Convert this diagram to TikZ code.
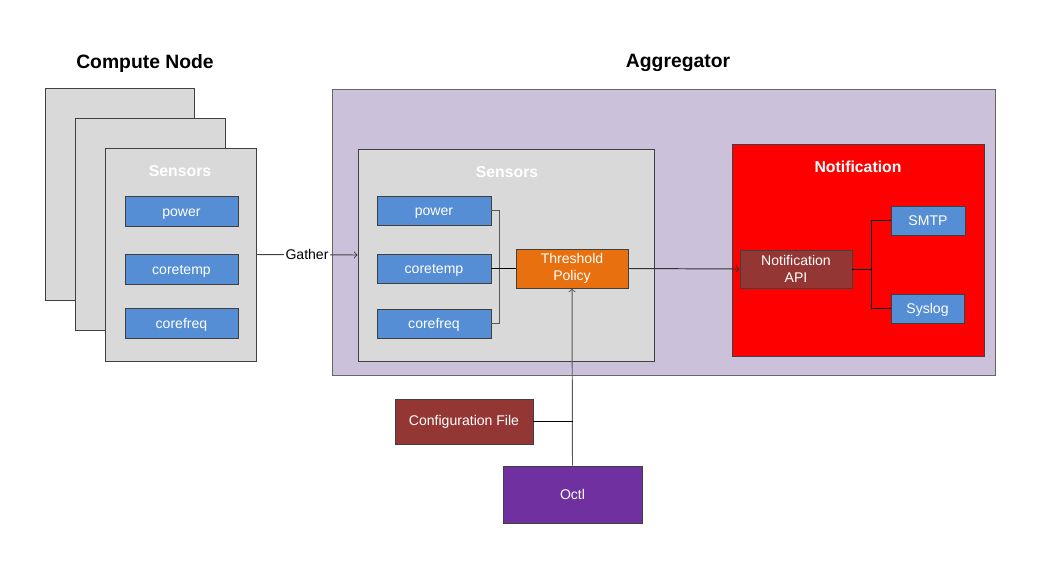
\documentclass[tikz,border=0pt]{standalone}
\usepackage{fontspec}
\setmainfont{Liberation Sans}
\usetikzlibrary{arrows, positioning}

\definecolor{panelgray}{HTML}{D9D9D9}
\definecolor{agglav}{HTML}{CCC1DA}
\definecolor{sensblue}{HTML}{558ED5}
\definecolor{throrange}{HTML}{E9700E}
\definecolor{apibrown}{HTML}{943634}
\definecolor{octlpurple}{HTML}{7030A0}
\definecolor{edgegray}{HTML}{404040}

\begin{document}
\begin{tikzpicture}[x=0.02cm, y=-0.02cm, line width=0.55pt,
    panel/.style={rectangle, draw=edgegray, fill=panelgray, inner sep=0pt},
    sensorbox/.style={rectangle, draw=edgegray, fill=sensblue, text=white, inner sep=0pt,
        minimum height=0.6cm, text height=0.78em, text depth=0.18em, font=\fontsize{8}{9.5}\selectfont},
    darkbox/.style={rectangle, draw=edgegray, text=white, inner sep=0pt, align=center,
        font=\fontsize{8}{9.5}\selectfont},
    title/.style={font=\fontsize{11}{13}\selectfont\bfseries},
    paneltitle/.style={text=white, font=\fontsize{9}{11}\selectfont\bfseries},
    wire/.style={draw=gray!70!black}]

% \draw[help lines] (0,0) grid (1037,582);
\useasboundingbox (0,0) rectangle (1037,582);

% TITLES
\node[title] (cntitle) at (145,63) {Compute Node};
\node[title] (aggtitle) at (678,63) {Aggregator};

% COMPUTE NODE STACK
\node[panel, minimum width=2.98cm, minimum height=4.24cm] (back1) at (119.5,194) {};
\node[panel, minimum width=3.0cm, minimum height=4.24cm] (back2) at (150,224) {};
\node[panel, minimum width=3.02cm, minimum height=4.26cm] (cn) at (180.5,254.5) {};
\node[paneltitle] (cnsenslbl) at (180,171) {Sensors};
\node[sensorbox, minimum width=2.26cm] (cnpower) at (181.5,211) {power};
\node[sensorbox, minimum width=2.26cm] (cncoretemp) at (181.5,269) {coretemp};
\node[sensorbox, minimum width=2.26cm] (cncorefreq) at (181.5,323.5) {corefreq};

% AGGREGATOR
\node[rectangle, draw=gray!80!black, fill=agglav, minimum width=13.28cm, minimum height=5.74cm] (agg) at (664,232.5) {};

\node[panel, minimum width=5.94cm, minimum height=4.24cm] (sens) at (506.5,255) {};
\node[paneltitle] (senslbl) at (507,172) {Sensors};
\node[sensorbox, minimum width=2.28cm, minimum height=0.58cm] (power) at (434,210.5) {power};
\node[sensorbox, minimum width=2.28cm, minimum height=0.58cm] (coretemp) at (434,268.5) {coretemp};
\node[sensorbox, minimum width=2.28cm, minimum height=0.58cm] (corefreq) at (434,323.5) {corefreq};
\node[darkbox, fill=throrange, minimum width=2.24cm, minimum height=0.78cm] (thr) at (572,268.5) {Threshold\\Policy};

\node[rectangle, draw=edgegray, fill=red, minimum width=5.04cm, minimum height=4.24cm] (notif) at (858,250) {};
\node[paneltitle] (notiflbl) at (858,167) {Notification};
\node[darkbox, fill=apibrown, minimum width=2.24cm, minimum height=0.76cm] (api) at (796,269) {Notification\\API};
\node[sensorbox, minimum width=1.48cm, minimum height=0.58cm] (smtp) at (928,220.5) {SMTP};
\node[sensorbox, minimum width=1.46cm, minimum height=0.58cm] (syslog) at (927.5,308.5) {Syslog};

% INPUTS BELOW
\node[darkbox, fill=apibrown, minimum width=2.76cm, minimum height=0.9cm] (cfg) at (464,421.5) {Configuration File};
\node[darkbox, fill=octlpurple, minimum width=2.78cm, minimum height=1.14cm] (octl) at (572.5,494.5) {Octl};

% CONNECTORS
\draw[->, draw=edgegray] (cn.east) -- node[fill=white, inner sep=1pt, font=\fontsize{8}{9.5}\selectfont] {Gather} (sens.west);
\draw[wire] (power.east) -- ++(8,0) |- (corefreq.east);
\draw (coretemp.east) -- (thr.west);
\draw[->, draw=black!80] (thr.east) -- (api.west);
\draw (api.east) -- ++(19,0) coordinate (nbus);
\draw (nbus) |- (smtp.west);
\draw (nbus) |- (syslog.west);
\draw[->, wire] (octl.north) -- (thr.south);
\draw (cfg.east) -- (cfg.east -| octl.north);

\end{tikzpicture}
\end{document}
